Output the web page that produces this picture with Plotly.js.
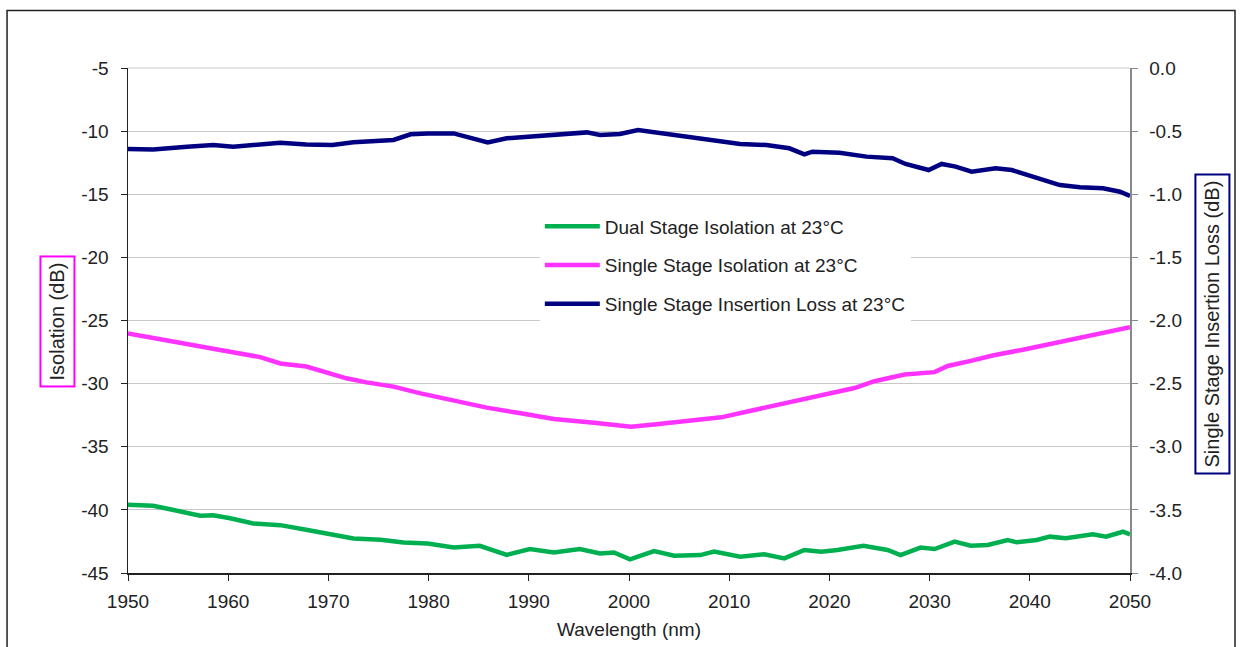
<!DOCTYPE html>
<html>
<head>
<meta charset="utf-8">
<script src="https://cdn.plot.ly/plotly-3.0.1.min.js"></script>
<style>
html,body{margin:0;padding:0;background:#fff;}
#chart{width:1240px;height:647px;}
</style>
</head>
<body>
<div id="chart"></div>
<script>
// Wavelength (nm) and values
const wlDual = [1950,1952.5,1954.2,1955.9,1957.2,1958.5,1960.2,1962.5,1965.2,1967.5,1969.9,1972.5,1975.2,1977.5,1979.9,1982.5,1985.1,1987.8,1990.1,1992.5,1995.1,1997.1,1998.5,2000.1,2002.5,2004.5,2007.1,2008.5,2011.1,2013.5,2015.5,2017.5,2019.2,2020.8,2023.4,2025.8,2027.1,2029.1,2030.5,2032.5,2034.1,2035.8,2037.8,2038.7,2040.7,2042,2043.6,2046.3,2047.6,2049.3,2050];
const dualIso = [-39.6,-39.68,-39.95,-40.2,-40.47,-40.42,-40.66,-41.08,-41.21,-41.53,-41.87,-42.27,-42.37,-42.59,-42.66,-42.98,-42.85,-43.56,-43.11,-43.38,-43.11,-43.46,-43.38,-43.92,-43.26,-43.63,-43.58,-43.31,-43.71,-43.52,-43.84,-43.18,-43.31,-43.18,-42.84,-43.18,-43.58,-42.99,-43.1,-42.52,-42.84,-42.78,-42.39,-42.57,-42.39,-42.12,-42.25,-41.94,-42.12,-41.73,-41.94];

const wlSingle = [1950,1951.8,1955.9,1959.2,1963.2,1965.2,1967.8,1971.8,1973.8,1976.5,1979.2,1981.2,1983.2,1985.8,1989.2,1992.5,1996.5,1999.2,2000.2,2002.5,2005.8,2009.2,2012.5,2015.8,2019.2,2022.5,2024.5,2027.5,2030.5,2031.8,2034.1,2036.4,2039.2,2041.9,2043.9,2046.5,2048.5,2050];
const singleIso = [-26.02,-26.28,-26.94,-27.33,-27.9,-28.4,-28.65,-29.58,-29.9,-30.24,-30.77,-31.1,-31.4,-31.9,-32.35,-32.8,-33.1,-33.29,-33.42,-33.24,-32.97,-32.67,-32.09,-31.5,-30.88,-30.35,-29.81,-29.28,-29.09,-28.6,-28.2,-27.75,-27.33,-26.87,-26.52,-26.07,-25.8,-25.53];

const wlIL = [1950,1952.5,1955.9,1958.5,1960.5,1962.5,1965.2,1967.8,1970.4,1972.5,1974.5,1976.5,1978.2,1979.9,1982.5,1983.9,1985.9,1987.8,1990.4,1992.5,1995.8,1997.1,1999.1,2000.9,2003.2,2005.9,2008.5,2011.1,2013.7,2016,2017.5,2018.3,2021,2023.7,2026.3,2027.6,2029.9,2031.2,2032.6,2034.2,2036.6,2038.2,2040.3,2043,2045,2047.3,2049,2050];
const singleIL = [-0.642,-0.645,-0.623,-0.61,-0.623,-0.613,-0.592,-0.605,-0.61,-0.589,-0.583,-0.57,-0.525,-0.518,-0.518,-0.544,-0.589,-0.557,-0.544,-0.531,-0.51,-0.531,-0.523,-0.491,-0.518,-0.549,-0.576,-0.602,-0.61,-0.636,-0.684,-0.663,-0.671,-0.702,-0.715,-0.76,-0.808,-0.76,-0.781,-0.821,-0.795,-0.808,-0.861,-0.927,-0.945,-0.953,-0.98,-1.014];

const seriesNames = ['Dual Stage Isolation at 23°C','Single Stage Isolation at 23°C','Single Stage Insertion Loss at 23°C'];
const leftTicks = [-5,-10,-15,-20,-25,-30,-35,-40,-45];
const leftTickText = ['-5','-10','-15','-20','-25','-30','-35','-40','-45'];
const rightTicks = [0,-0.5,-1,-1.5,-2,-2.5,-3,-3.5,-4];
const rightTickText = ['0.0','-0.5','-1.0','-1.5','-2.0','-2.5','-3.0','-3.5','-4.0'];
const xTicks = [1950,1960,1970,1980,1990,2000,2010,2020,2030,2040,2050];

const FONT = 'Liberation Sans, Arial, sans-serif';
const TXT = '#222';

const traces = [
  {x: wlDual, y: dualIso, name: seriesNames[0], type:'scatter', mode:'lines',
   line:{color:'#00b050', width:4.5}, legendgroup:'a', yaxis:'y'},
  {x: wlSingle, y: singleIso, name: seriesNames[1], type:'scatter', mode:'lines',
   line:{color:'#ff33ff', width:4.5}, legendgroup:'b', yaxis:'y'},
  {x: wlIL, y: singleIL, name: seriesNames[2], type:'scatter', mode:'lines',
   line:{color:'#000080', width:4.5}, legendgroup:'c', yaxis:'y2'}
];

const layout = {
  width:1240, height:647,
  margin:{l:128, r:110, t:68, b:74, pad:0},
  paper_bgcolor:'#fff', plot_bgcolor:'#fff',
  font:{family:FONT, size:19, color:TXT},
  showlegend:true,
  legend:{x:0.411, y:0.724, xanchor:'left', yanchor:'top', bgcolor:'#fff',
          font:{family:FONT, size:19, color:TXT}, traceorder:'grouped',
          tracegroupgap:11, itemwidth:55},
  xaxis:{range:[1950,2050], tickvals:xTicks, ticks:'outside', ticklen:6, tickcolor:TXT,
         showline:true, linecolor:TXT, linewidth:1.5, showgrid:false, zeroline:false,
         ticklabelstandoff:5, tickfont:{size:19, color:TXT},
         title:{text:'Wavelength (nm)', font:{size:19, color:TXT}, standoff:11}},
  yaxis:{range:[-45,-5], tickvals:leftTicks, ticktext:leftTickText, ticks:'outside', ticklen:6,
         tickcolor:TXT, showline:true, linecolor:TXT, linewidth:1.5, showgrid:true,
         gridcolor:'#c8c8c8', gridwidth:1.2, zeroline:false, ticklabelstandoff:8,
         tickfont:{size:19, color:TXT}},
  yaxis2:{range:[-4,0], overlaying:'y', side:'right', tickvals:rightTicks, ticktext:rightTickText,
          ticks:'outside', ticklen:6, tickcolor:'#888', showline:true, linecolor:'#888',
          linewidth:1.5, showgrid:false, zeroline:false, ticklabelstandoff:8,
          tickfont:{size:19, color:TXT}},
  shapes:[
    {type:'rect', xref:'paper', yref:'paper', x0:-0.1207, x1:1.1048, y0:-0.2, y1:1.1139,
     line:{color:'#222', width:1.5}, fillcolor:'rgba(0,0,0,0)', layer:'below'},
    {type:'line', xref:'paper', yref:'paper', x0:0, x1:1, y0:1, y1:1,
     line:{color:'#c8c8c8', width:1.2}}
  ],
  annotations:[
    {text:'Isolation (dB)', xref:'paper', yref:'paper', x:-0.0704, y:0.499,
     xanchor:'center', yanchor:'middle', textangle:-90,
     showarrow:false, font:{size:20, color:TXT}, bordercolor:'#ff00ff', borderwidth:2,
     borderpad:5, bgcolor:'#fff'},
    {text:'Single Stage Insertion Loss (dB)', xref:'paper', yref:'paper', x:1.0823, y:0.493,
     xanchor:'center', yanchor:'middle', textangle:-90, showarrow:false,
     font:{size:20, color:TXT}, bordercolor:'#000080',
     borderwidth:2, borderpad:5, bgcolor:'#fff'}
  ]
};

Plotly.newPlot('chart', traces, layout, {displayModeBar:false, staticPlot:true});
</script>
</body>
</html>
